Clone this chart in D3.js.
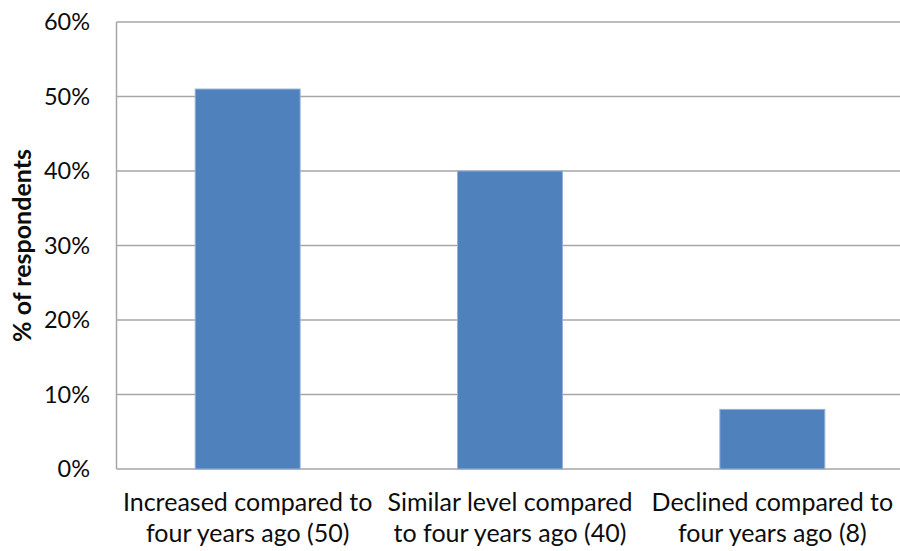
<!DOCTYPE html>
<html>
<head>
<meta charset="utf-8">
<script src="https://cdn.jsdelivr.net/npm/d3@7"></script>
<style>
  html, body { margin: 0; padding: 0; background: #fff; }
  svg { display: block; }
  text { font-family: Lato, "Open Sans", sans-serif; fill: #0d0d0d; }
</style>
</head>
<body>
<svg id="chart" width="900" height="551"></svg>
<script>
// Survey responses: share of respondents per category
const categories = [
  ["Increased compared to", "four years ago (50)"],
  ["Similar level compared", "to four years ago (40)"],
  ["Declined compared to", "four years ago (8)"]
];
const values = [0.51, 0.40, 0.08];
const yTicks = [0, 0.1, 0.2, 0.3, 0.4, 0.5, 0.6];
const yTitle = "% of respondents";

const svg = d3.select("#chart");
const plot = { left: 116.5, right: 903.5, top: 22, bottom: 469 };

const keys = categories.map(c => c.join(" "));
const x = d3.scaleBand()
  .domain(keys)
  .range([plot.left, plot.right])
  .paddingInner(0.6)
  .paddingOuter(0.3);

const y = d3.scaleLinear()
  .domain([0, 0.6])
  .range([plot.bottom, plot.top]);

// Horizontal gridlines
svg.append("g")
  .selectAll("line")
  .data(yTicks)
  .join("line")
  .attr("x1", plot.left)
  .attr("x2", plot.right)
  .attr("y1", d => y(d))
  .attr("y2", d => y(d))
  .attr("stroke", "#a6a6a6")
  .attr("stroke-width", 1.5);

// Vertical axis line
svg.append("line")
  .attr("x1", plot.left).attr("x2", plot.left)
  .attr("y1", plot.top).attr("y2", plot.bottom)
  .attr("stroke", "#a6a6a6")
  .attr("stroke-width", 1.5);

// Tick labels
const fmt = d3.format(".0%");
svg.append("g")
  .selectAll("text")
  .data(yTicks)
  .join("text")
  .attr("x", 90)
  .attr("y", d => y(d))
  .attr("dy", "0.35em")
  .attr("text-anchor", "end")
  .attr("font-size", 23.5)
  .text(d => fmt(d));

// Bars
svg.append("g")
  .selectAll("rect")
  .data(values)
  .join("rect")
  .attr("x", (d, i) => x(keys[i]))
  .attr("width", x.bandwidth())
  .attr("y", d => y(d))
  .attr("height", d => y(0) - y(d))
  .attr("fill", "#4f81bd")
  .attr("stroke", "#94b0d8")
  .attr("stroke-width", 1);

// Category labels (two lines each)
const cat = svg.append("g")
  .selectAll("text")
  .data(categories)
  .join("text")
  .attr("text-anchor", "middle")
  .attr("font-size", 25)
  .attr("transform", (d, i) => `translate(${x(keys[i]) + x.bandwidth() / 2},511)`);
cat.selectAll("tspan")
  .data(d => d)
  .join("tspan")
  .attr("x", 0)
  .attr("y", (d, j) => j * 31)
  .text(d => d);

// Axis title
svg.append("text")
  .attr("transform", `translate(31,${(plot.top + plot.bottom) / 2}) rotate(-90)`)
  .attr("text-anchor", "middle")
  .attr("font-size", 25)
  .attr("font-weight", "bold")
  .text(yTitle);
</script>
</body>
</html>
